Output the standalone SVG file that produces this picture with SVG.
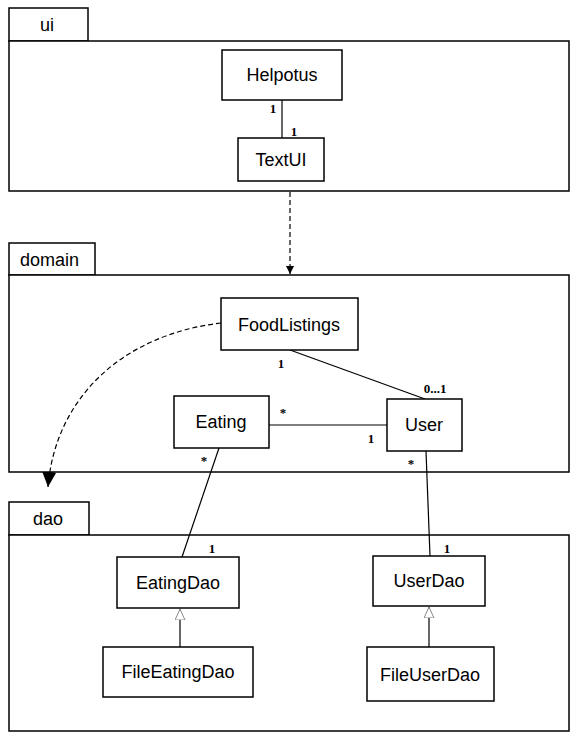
<svg xmlns="http://www.w3.org/2000/svg" width="585" height="741" viewBox="0 0 585 741">
<style>
.pkg{fill:#fff;stroke:#000;stroke-width:1.5}
.cls{fill:#fff;stroke:#000;stroke-width:1.5}
.t{font-family:"Liberation Sans",Arial,sans-serif;font-size:18px;fill:#000;text-anchor:middle;dominant-baseline:central}
.pt{font-family:"Liberation Sans",Arial,sans-serif;font-size:18px;fill:#000;dominant-baseline:central}
.m{font-family:"Liberation Serif","Times New Roman",serif;font-size:13px;font-weight:bold;fill:#000;text-anchor:middle;dominant-baseline:central}
.ln{fill:none;stroke:#000;stroke-width:1.2}
.dash{fill:none;stroke:#000;stroke-width:1.2;stroke-dasharray:5,3}
</style>
<defs>
<marker id="arrS" markerWidth="10" markerHeight="10" refX="8" refY="4" orient="auto" markerUnits="userSpaceOnUse"><path d="M0,0 L8,4 L0,8 Z" fill="#000"/></marker>
<marker id="arrL" markerWidth="18" markerHeight="18" refX="15" refY="7" orient="auto" markerUnits="userSpaceOnUse"><path d="M0,0 L15,7 L0,14 Z" fill="#000"/></marker>
<marker id="gen" markerWidth="14" markerHeight="14" refX="11" refY="5" orient="auto" markerUnits="userSpaceOnUse"><path d="M0,0 L11,5 L0,10 Z" fill="#fff" stroke="#888" stroke-width="1"/></marker>
</defs>

<g id="pkg-ui">
<rect class="pkg" x="9" y="8" width="79" height="33"/>
<text class="pt" x="40" y="25">ui</text>
<rect class="pkg" x="9" y="41" width="560" height="150"/>
</g>
<g id="pkg-domain">
<rect class="pkg" x="9" y="243" width="86" height="32"/>
<text class="pt" x="20" y="260">domain</text>
<rect class="pkg" x="9" y="275" width="560" height="197"/>
</g>
<g id="pkg-dao">
<rect class="pkg" x="9" y="502" width="80" height="33"/>
<text class="pt" x="33" y="519">dao</text>
<rect class="pkg" x="9" y="535" width="560" height="196"/>
</g>

<g id="connectors">
<line class="ln" x1="282" y1="100" x2="282" y2="138"/>
<text class="m" x="273" y="108">1</text>
<text class="m" x="294" y="131">1</text>

<line class="dash" x1="290" y1="192" x2="290" y2="274" marker-end="url(#arrS)"/>

<line class="ln" x1="290" y1="350" x2="425" y2="399"/>
<text class="m" x="281" y="363">1</text>
<text class="m" x="435" y="388">0...1</text>

<line class="ln" x1="269" y1="425" x2="387" y2="425"/>
<text class="m" x="283" y="412">*</text>
<text class="m" x="371" y="438">1</text>

<line class="ln" x1="219" y1="448" x2="182" y2="557"/>
<text class="m" x="204" y="460">*</text>
<text class="m" x="212" y="548">1</text>

<line class="ln" x1="426" y1="451" x2="430" y2="556"/>
<text class="m" x="411" y="463">*</text>
<text class="m" x="447" y="548">1</text>

<line class="ln" x1="180" y1="647" x2="180" y2="609" marker-end="url(#gen)"/>
<line class="ln" x1="429" y1="647" x2="429" y2="607" marker-end="url(#gen)"/>

<path class="dash" d="M221,323 C120,335 55,400 48,487" marker-end="url(#arrL)"/>
</g>

<g id="Helpotus"><rect class="cls" x="222" y="50" width="120" height="50"/><text class="t" x="282" y="75">Helpotus</text></g>
<g id="TextUI"><rect class="cls" x="238" y="138" width="86" height="43"/><text class="t" x="281" y="160">TextUI</text></g>
<g id="FoodListings"><rect class="cls" x="221" y="298" width="137" height="52"/><text class="t" x="289" y="325">FoodListings</text></g>
<g id="Eating"><rect class="cls" x="174" y="396" width="95" height="52"/><text class="t" x="221" y="422">Eating</text></g>
<g id="User"><rect class="cls" x="387" y="399" width="75" height="52"/><text class="t" x="424" y="425">User</text></g>
<g id="EatingDao"><rect class="cls" x="117" y="557" width="122" height="51"/><text class="t" x="178" y="583">EatingDao</text></g>
<g id="UserDao"><rect class="cls" x="373" y="556" width="112" height="50"/><text class="t" x="429" y="581">UserDao</text></g>
<g id="FileEatingDao"><rect class="cls" x="103" y="647" width="150" height="50"/><text class="t" x="178" y="672">FileEatingDao</text></g>
<g id="FileUserDao"><rect class="cls" x="367" y="647" width="127" height="54"/><text class="t" x="430" y="675">FileUserDao</text></g>
</svg>
